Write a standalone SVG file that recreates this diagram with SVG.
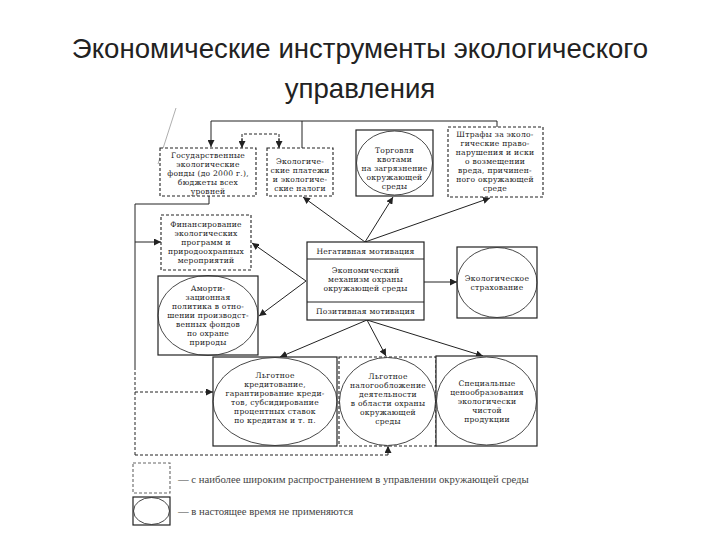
<svg xmlns="http://www.w3.org/2000/svg" width="720" height="540" viewBox="0 0 720 540">
<style>
.title{font-family:"Liberation Sans",Arial,sans-serif;font-size:27.6px;fill:#222;text-anchor:middle}
.t{font-family:"DejaVu Serif","Liberation Serif",serif;font-size:7.6px;fill:#222;text-anchor:middle;letter-spacing:0.25px}
.lg{font-family:"Liberation Serif","Times New Roman",serif;font-size:10.7px;fill:#444}
.solid{fill:#fff;stroke:#222;stroke-width:1.2}
.dash{fill:#fff;stroke:#222;stroke-width:1.1;stroke-dasharray:3 2}
.ell{fill:none;stroke:#333;stroke-width:0.9}
.ln{fill:none;stroke:#222;stroke-width:1}
.dl{fill:none;stroke:#222;stroke-width:1;stroke-dasharray:3 2}
.arr{marker-end:url(#ah)}
</style>
<defs>
<marker id="ah" viewBox="0 0 10 10" refX="10" refY="5" markerWidth="7" markerHeight="7" markerUnits="userSpaceOnUse" orient="auto">
<path d="M0,0 L10,5 L0,10 z" fill="#222"/>
</marker>
</defs>
<rect width="720" height="540" fill="#fff"/>
<text class="title" x="360" y="58">Экономические инструменты экологического</text>
<text class="title" x="360" y="98">управления</text>

<g id="connectors">
<line x1="176" y1="108" x2="158" y2="164" stroke="#999" stroke-width="0.8"/>
<polyline class="ln" points="302,148 302,121 211,121 211,147" marker-end="url(#ah)"/>
<polyline class="ln" points="302,121 497,121 497,127"/>
<polyline class="dl" points="242,147 242,134 279,134 279,147"/>
<line class="ln arr" x1="242" y1="138" x2="242" y2="148"/>
<line class="ln arr" x1="279" y1="138" x2="279" y2="148"/>
<polyline class="ln" points="209,196 209,204 135,204 135,367"/>
<line class="dl" x1="135" y1="367" x2="135" y2="455"/>
<line class="ln arr" x1="135" y1="242" x2="161" y2="242"/>
<line class="dl arr" x1="135" y1="392" x2="213" y2="392"/>
<polyline class="dl" points="135,455 388,455 388,447"/>
<line class="ln arr" x1="388" y1="455" x2="388" y2="446"/>
<line class="ln arr" x1="365" y1="242" x2="303" y2="197"/>
<line class="ln arr" x1="365" y1="242" x2="393" y2="197"/>
<line class="ln arr" x1="365" y1="242" x2="490" y2="198"/>
<line class="ln arr" x1="306" y1="281" x2="252" y2="243"/>
<line class="ln arr" x1="306" y1="281" x2="259" y2="316"/>
<line class="ln arr" x1="367" y1="320" x2="280" y2="357"/>
<line class="ln arr" x1="367" y1="320" x2="386" y2="356"/>
<line class="ln arr" x1="367" y1="320" x2="483" y2="356"/>
<line class="ln arr" x1="424" y1="282" x2="457" y2="282"/>
</g>

<g id="gos-fondy">
<rect class="dash" x="160" y="148" width="96" height="48"/>
<text class="t" x="208" y="158">Государственные</text>
<text class="t" x="208" y="167">экологические</text>
<text class="t" x="208" y="176">фонды (до 2000 г.),</text>
<text class="t" x="208" y="185">бюджеты всех</text>
<text class="t" x="208" y="194">уровней</text>
</g>

<g id="platezhi">
<rect class="dash" x="267" y="148" width="66" height="48"/>
<text class="t" x="300" y="164">Экологиче-</text>
<text class="t" x="300" y="173">ские платежи</text>
<text class="t" x="300" y="182">и экологиче-</text>
<text class="t" x="300" y="191">ские налоги</text>
</g>

<g id="torgovlya">
<rect class="solid" x="356" y="130" width="77" height="66"/>
<ellipse class="ell" cx="394.5" cy="163" rx="38" ry="32"/>
<text class="t" x="394.5" y="153">Торговля</text>
<text class="t" x="394.5" y="162">квотами</text>
<text class="t" x="394.5" y="171">на загрязнение</text>
<text class="t" x="394.5" y="180">окружающей</text>
<text class="t" x="394.5" y="189">среды</text>
</g>

<g id="shtrafy">
<rect class="dash" x="448" y="127" width="95" height="70"/>
<text class="t" x="495" y="137">Штрафы за эколо-</text>
<text class="t" x="495" y="146">гические право-</text>
<text class="t" x="495" y="155">нарушения и иски</text>
<text class="t" x="495" y="164">о возмещении</text>
<text class="t" x="495" y="173">вреда, причинен-</text>
<text class="t" x="495" y="182">ного окружающей</text>
<text class="t" x="495" y="191">среде</text>
</g>

<g id="finansirovanie">
<rect class="dash" x="161" y="215" width="90" height="55"/>
<text class="t" x="206" y="227">Финансирование</text>
<text class="t" x="206" y="236">экологических</text>
<text class="t" x="206" y="245">программ и</text>
<text class="t" x="206" y="254">природоохранных</text>
<text class="t" x="206" y="263">мероприятий</text>
</g>

<g id="amortizatsiya">
<rect class="solid" x="158" y="276" width="100" height="79"/>
<ellipse class="ell" cx="208" cy="315.5" rx="50" ry="40"/>
<text class="t" x="208" y="291">Аморти-</text>
<text class="t" x="208" y="300">зационная</text>
<text class="t" x="208" y="309">политика в отно-</text>
<text class="t" x="208" y="318">шении производст-</text>
<text class="t" x="208" y="327">венных фондов</text>
<text class="t" x="208" y="336">по охране</text>
<text class="t" x="208" y="345">природы</text>
</g>

<g id="mekhanizm">
<rect class="solid" x="307" y="242" width="117" height="78"/>
<line class="ln" x1="307" y1="259" x2="424" y2="259"/>
<line class="ln" x1="307" y1="302" x2="424" y2="302"/>
<text class="t" x="365.5" y="254">Негативная мотивация</text>
<text class="t" x="365.5" y="273">Экономический</text>
<text class="t" x="365.5" y="282">механизм охраны</text>
<text class="t" x="365.5" y="291">окружающей среды</text>
<text class="t" x="365.5" y="314">Позитивная мотивация</text>
</g>

<g id="strakhovanie">
<rect class="solid" x="457" y="247" width="80" height="71"/>
<ellipse class="ell" cx="497" cy="282.5" rx="40" ry="35"/>
<text class="t" x="497" y="281">Экологическое</text>
<text class="t" x="497" y="290">страхование</text>
</g>

<g id="kreditovanie">
<rect class="solid" x="213" y="357" width="124" height="89"/>
<ellipse class="ell" cx="275" cy="401.5" rx="62" ry="44"/>
<text class="t" x="275" y="378">Льготное</text>
<text class="t" x="275" y="387">кредитование,</text>
<text class="t" x="275" y="396">гарантирование креди-</text>
<text class="t" x="275" y="405">тов, субсидирование</text>
<text class="t" x="275" y="414">процентных ставок</text>
<text class="t" x="275" y="423">по кредитам и т. п.</text>
</g>

<g id="nalogooblozhenie">
<rect class="dash" x="339" y="357" width="97" height="89"/>
<ellipse class="ell" cx="387.5" cy="401.5" rx="48" ry="44"/>
<text class="t" x="388" y="379">Льготное</text>
<text class="t" x="388" y="388">налогообложение</text>
<text class="t" x="388" y="397">деятельности</text>
<text class="t" x="388" y="406">в области охраны</text>
<text class="t" x="388" y="415">окружающей</text>
<text class="t" x="388" y="424">среды</text>
</g>

<g id="tsenoobrazovanie">
<rect class="solid" x="436" y="356" width="101" height="90"/>
<ellipse class="ell" cx="486.5" cy="401" rx="50" ry="44"/>
<text class="t" x="487" y="386">Специальные</text>
<text class="t" x="487" y="395">ценообразования</text>
<text class="t" x="487" y="404">экологически</text>
<text class="t" x="487" y="413">чистой</text>
<text class="t" x="487" y="422">продукции</text>
</g>

<g id="legend">
<rect class="dash" x="133" y="463" width="37" height="30" style="stroke:#666"/>
<text class="lg" x="178" y="483">— с наиболее широким распространением в управлении окружающей среды</text>
<rect class="solid" x="133" y="497" width="37" height="28"/>
<ellipse class="ell" cx="151.5" cy="511" rx="18" ry="13.5"/>
<text class="lg" x="178" y="515">— в настоящее время не применяются</text>
</g>
</svg>
